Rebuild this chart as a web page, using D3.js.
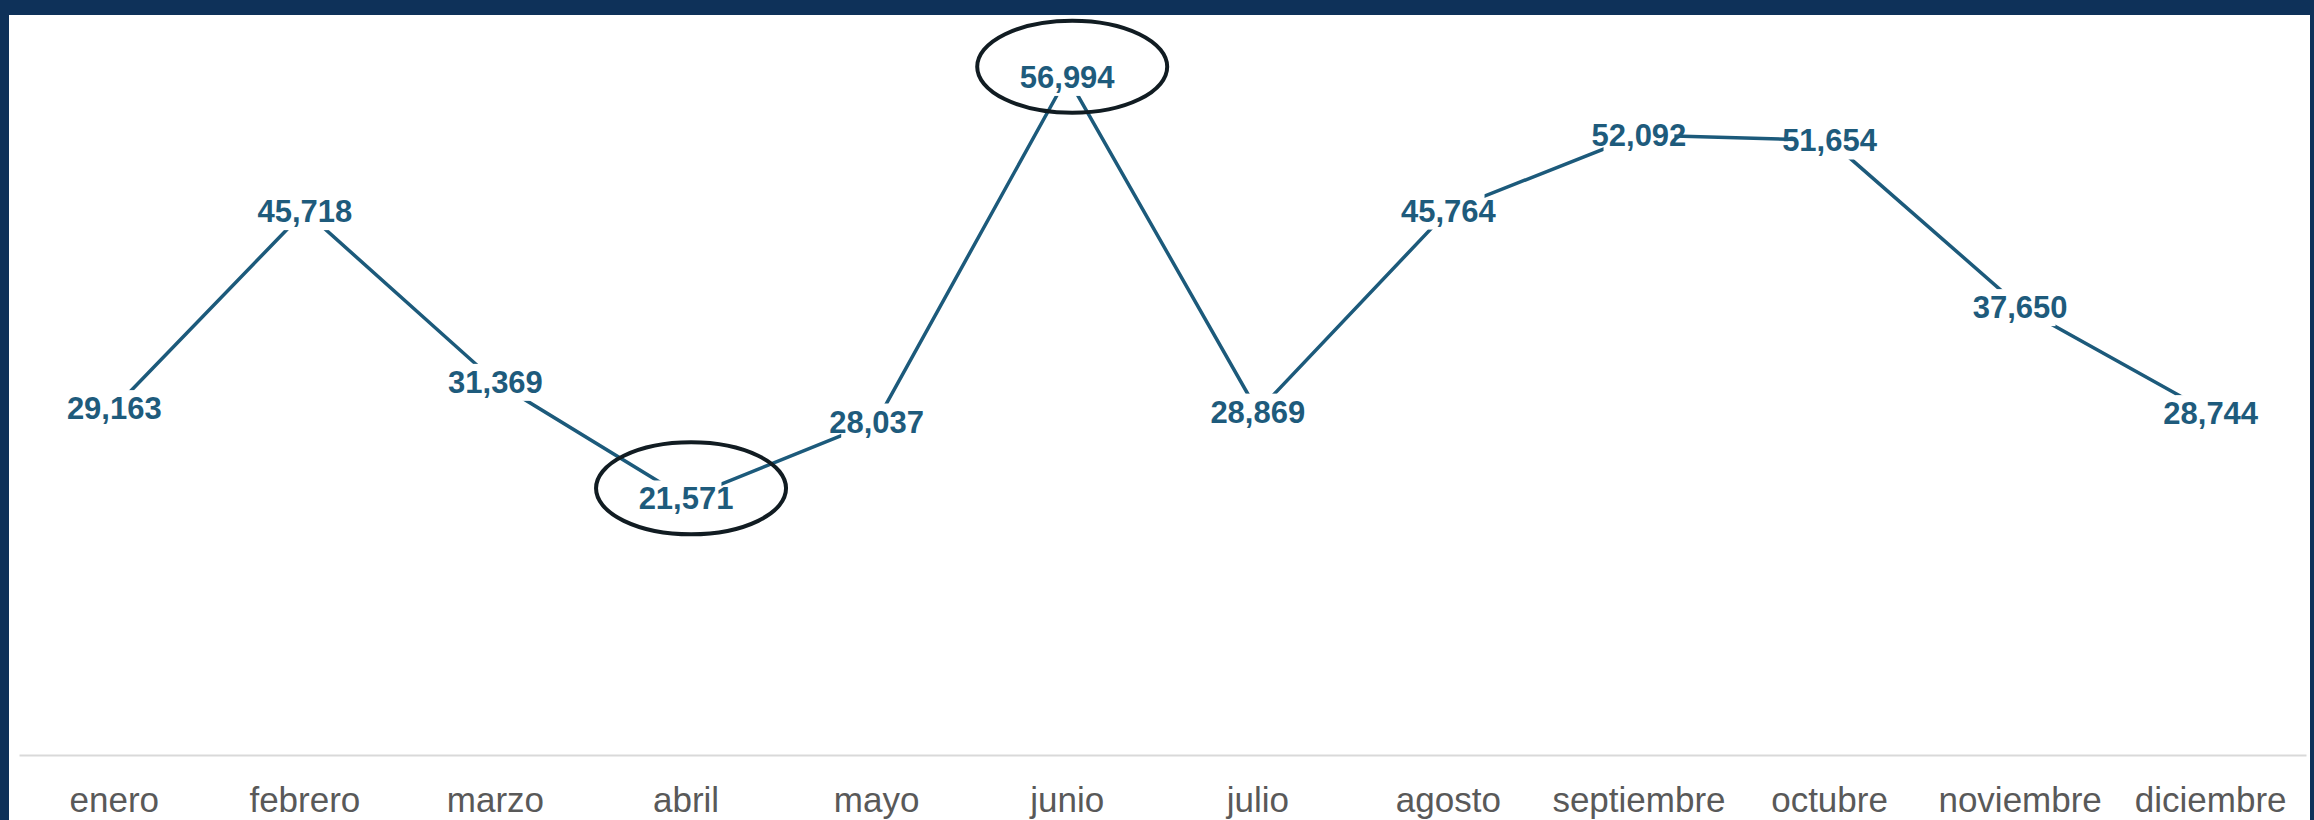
<!DOCTYPE html>
<html>
<head>
<meta charset="utf-8">
<script src="https://cdn.jsdelivr.net/npm/d3@7"></script>
<style>
  html, body { margin: 0; padding: 0; background: #0e3159; overflow: hidden; }
  svg { display: block; }
</style>
</head>
<body>
<svg id="chart" width="2314" height="820"></svg>
<script>
// ---- data ----
const months = ["enero", "febrero", "marzo", "abril", "mayo", "junio",
                "julio", "agosto", "septiembre", "octubre", "noviembre", "diciembre"];
const values = [29163, 45718, 31369, 21571, 28037, 56994,
                28869, 45764, 52092, 51654, 37650, 28744];
const highlightMonths = ["abril", "junio"];

// ---- layout ----
const W = 2314, H = 820;
const svg = d3.select("#chart");
const navy = "#0e3159";
const lineColor = "#1c5a7b";
const labelColor = "#1e5b7c";

svg.append("rect").attr("x", 0).attr("y", 0).attr("width", W).attr("height", H).attr("fill", navy);
svg.append("rect").attr("x", 9).attr("y", 15).attr("width", 2310 - 9).attr("height", H - 15).attr("fill", "#ffffff");

const x = d3.scaleBand().domain(months).range([19, 2306]).padding(0);
const y = d3.scaleLinear().domain([0, 60000]).range([755, 41]);
const cx = m => x(m) + x.bandwidth() / 2;

const data = months.map((m, i) => ({ m, v: values[i] }));

// axis
const axis = svg.append("g")
  .attr("transform", `translate(0,${y(0)})`)
  .call(d3.axisBottom(x).tickSize(0).tickPadding(0));
axis.select(".domain").attr("stroke", "#d9d9d9").attr("stroke-width", 2);
axis.selectAll(".tick text")
  .attr("y", 57).attr("dy", 0)
  .attr("fill", "#595959")
  .style("font-family", "'Liberation Sans', Arial, sans-serif")
  .style("font-size", "35px");

// line
const line = d3.line().x(d => cx(d.m)).y(d => y(d.v));
svg.append("path")
  .datum(data)
  .attr("d", line)
  .attr("fill", "none")
  .attr("stroke", lineColor)
  .attr("stroke-width", 3.5);

// labels with partial white masks
const fmt = d3.format(",");
const labels = svg.append("g");
data.forEach(d => {
  const g = labels.append("g");
  const t = g.append("text")
    .attr("x", cx(d.m))
    .attr("y", y(d.v) + 31 * 0.36)
    .attr("text-anchor", "middle")
    .attr("fill", labelColor)
    .style("font-family", "'Liberation Sans', Arial, sans-serif")
    .style("font-weight", "bold")
    .style("font-size", "31px")
    .text(fmt(d.v));
  const bb = t.node().getBBox();
  g.insert("rect", "text")
    .attr("x", bb.x + 12)
    .attr("y", bb.y - 1)
    .attr("width", bb.width - 24)
    .attr("height", bb.height + 2)
    .attr("fill", "#ffffff");
});

// highlight ellipses
svg.append("g").selectAll("ellipse")
  .data(data.filter(d => highlightMonths.includes(d.m)))
  .join("ellipse")
  .attr("cx", d => cx(d.m) + 5)
  .attr("cy", d => y(d.v) - 10)
  .attr("rx", 95)
  .attr("ry", 46)
  .attr("fill", "none")
  .attr("stroke", "#111c22")
  .attr("stroke-width", 4);
</script>
</body>
</html>
